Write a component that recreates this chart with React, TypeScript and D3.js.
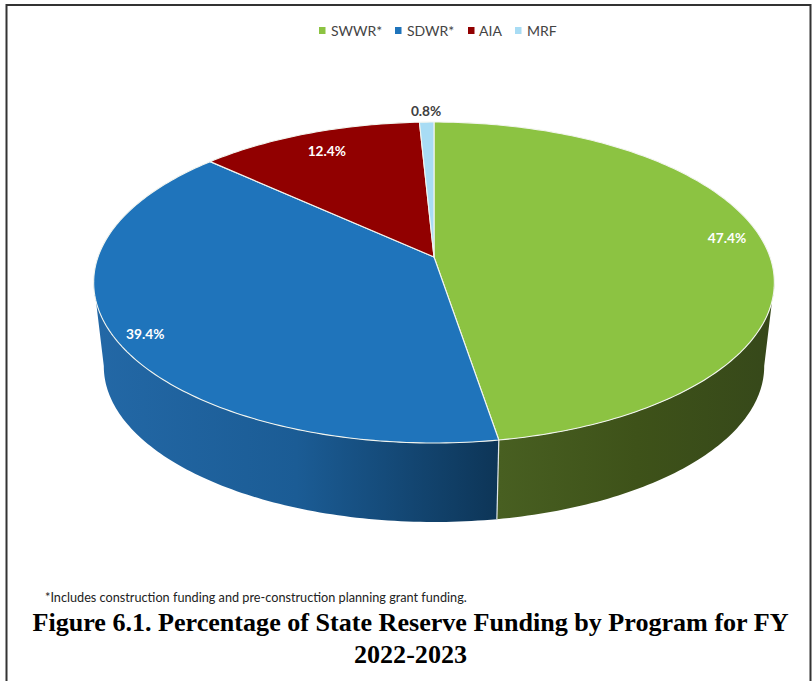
import React from "react";
import * as d3 from "d3";

const categories = ["SWWR*", "SDWR*", "AIA", "MRF"];
const shares = [47.4, 39.4, 12.4, 0.8];
const valueLabels = ["47.4%", "39.4%", "12.4%", "0.8%"];
const topColors = ["#8cc342", "#1f74bb", "#910000", "#a8dcf4"];
const labelColors = ["#ffffff", "#ffffff", "#ffffff", "#404040"];
const wallLeftColors = ["#485f21", "#2368a6", "#5a0000", "#6a8a99"];
const wallMidColors = ["#3e5219", "#1b5c95", "#4a0000", "#5a7480"];
const wallRightColors = ["#36481a", "#0d3557", "#3a0000", "#4a606a"];
const footnote = "*Includes construction funding and pre-construction planning grant funding.";
const titleLines = ["Figure 6.1. Percentage of State Reserve Funding by Program for FY", "2022-2023"];

// layout
const W = 812, H = 681;
const CX = 434, K = 0.159;
const TOP = { y0: 257, a: 156.4, b: 336 };
const BOT = { y0: 341.6, a: 151.7, b: 326 };
const labelR = [0.885, 0.91, 0.84, 1.1];
const labelDy = [-8, 4, 0, 0];
const legendX = [319, 395, 468, 515];
const legendTextX = [331, 407, 479, 527];

type Plane = { y0: number; a: number; b: number };
const project = (p: Plane, ang: number, r = 1): [number, number] => {
  const u = r * Math.sin(ang), v = -r * Math.cos(ang);
  const d = 1 - K * v;
  return [CX + (p.b * u) / d, p.y0 + (p.a * v) / d];
};

const pie = d3.pie<number>().sort(null).startAngle(0).endAngle(2 * Math.PI);
const arcs = pie(shares);
const lineGen = d3.line();
const samples = (a0: number, a1: number) => {
  const n = Math.max(2, Math.ceil(Math.abs(a1 - a0) * 60));
  return d3.range(n + 1).map((i) => a0 + ((a1 - a0) * i) / n);
};
const wallStart = (99 * Math.PI) / 180, wallEnd = (261 * Math.PI) / 180;

export default function App() {
  const walls = arcs
    .map((d, i) => ({ i, a0: Math.max(d.startAngle, wallStart), a1: Math.min(d.endAngle, wallEnd) }))
    .filter((w) => w.a1 > w.a0);
  return (
    <svg width={W} height={H} viewBox={`0 0 ${W} ${H}`}
      style={{ position: "absolute", left: 0, top: 0, background: "#fff", display: "block" }}>
      <defs>
        {walls.map((w) => {
          const xs = [project(TOP, w.a0)[0], project(TOP, w.a1)[0]];
          return (
            <linearGradient key={w.i} id={`wall${w.i}`} gradientUnits="userSpaceOnUse"
              x1={d3.min(xs)} x2={d3.max(xs)} y1={0} y2={0}>
              <stop offset="0%" stopColor={wallLeftColors[w.i]} />
              <stop offset="50%" stopColor={wallMidColors[w.i]} />
              <stop offset="100%" stopColor={wallRightColors[w.i]} />
            </linearGradient>
          );
        })}
      </defs>
      <path d={`M6.5 ${H}V5H810.5V${H}`} fill="none" stroke="#333" strokeWidth={2} />

      {walls.map((w) => {
        const s = samples(w.a0, w.a1);
        const pts = [...s.map((a) => project(TOP, a)), ...s.slice().reverse().map((a) => project(BOT, a))];
        return <path key={w.i} d={lineGen(pts) + "Z"} fill={`url(#wall${w.i})`} />;
      })}
      {walls.slice(1).map((w) => (
        <path key={w.i} d={lineGen([project(TOP, w.a0), project(BOT, w.a0)]) ?? ""}
          stroke="#dfe6ea" strokeWidth={1.2} fill="none" />
      ))}

      {arcs.map((d, i) => {
        const pts: [number, number][] = [[CX, TOP.y0], ...samples(d.startAngle, d.endAngle).map((a) => project(TOP, a))];
        return <path key={i} d={lineGen(pts) + "Z"} fill={topColors[i]} stroke="#f2f5ef" strokeWidth={1.1} strokeLinejoin="round" />;
      })}

      {arcs.map((d, i) => {
        const [x, y] = project(TOP, (d.startAngle + d.endAngle) / 2, labelR[i]);
        return (
          <text key={i} x={x} y={y + labelDy[i] + 5} textAnchor="middle" fontFamily="Lato, 'Open Sans', sans-serif"
            fontWeight={700} fontSize={13.7} fill={labelColors[i]}>{valueLabels[i]}</text>
        );
      })}

      {categories.map((c, i) => (
        <g key={c}>
          <rect x={legendX[i]} y={27} width={6.5} height={7} fill={topColors[i]} />
          <text x={legendTextX[i]} y={36} fontFamily="Lato, 'Open Sans', sans-serif" fontSize={14} fill="#444">{c}</text>
        </g>
      ))}

      <text x={45} y={602} fontFamily="Lato, 'Open Sans', sans-serif" fontSize={12.7} fill="#222">{footnote}</text>
      {titleLines.map((t, i) => (
        <text key={i} x={410.5} y={631 + i * 32} textAnchor="middle" fontFamily="'Liberation Serif', serif"
          fontWeight={700} fontSize={26.1} fill="#000">{t}</text>
      ))}
    </svg>
  );
}
